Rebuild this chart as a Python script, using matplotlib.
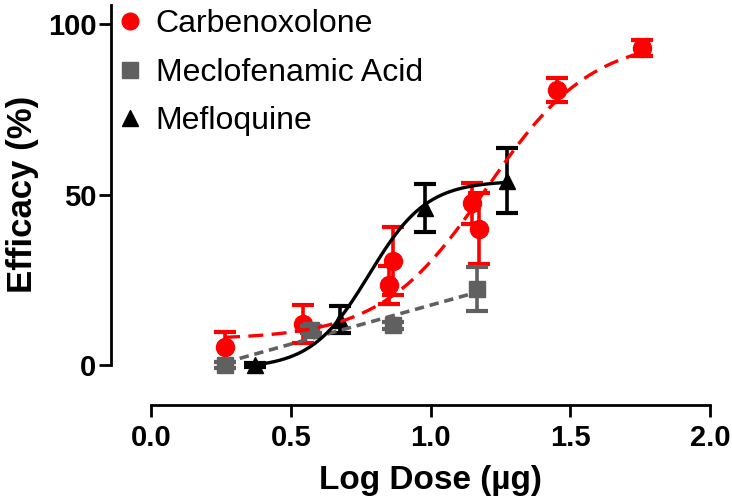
import numpy as np
import matplotlib
matplotlib.use("Agg")
import matplotlib.pyplot as plt
from matplotlib.lines import Line2D
from matplotlib.transforms import blended_transform_factory

plt.rcParams['font.family'] = ['Liberation Sans', 'DejaVu Sans']

# ---- data ----
carb_x = [0.265, 0.545, 0.85, 0.865, 1.148, 1.175, 1.451, 1.756]
carb_y = [5.3, 12.0, 23.5, 30.5, 47.4, 40.0, 80.6, 92.9]
carb_err = [4.5, 5.6, 5.5, 10.0, 6.0, 10.3, 3.5, 2.3]

mecl_x = [0.265, 0.572, 0.866, 1.165]
mecl_y = [0.0, 10.3, 11.7, 22.3]
mecl_err = [1.0, 1.0, 1.0, 6.5]

meflo_x = [0.372, 0.676, 0.98, 1.275]
meflo_y = [0.0, 13.3, 46.0, 54.0]
meflo_err = [0.5, 4.0, 7.0, 9.5]

# fitted dose-response curve parameters (bottom, top, logEC50, hill)
carb_fit = (7.5, 96.0, 1.20, 2.3)
meflo_fit = (-1.0, 54.0, 0.78, 4.2)

labels = ["Carbenoxolone", "Meclofenamic Acid", "Mefloquine"]
xticks = [0.0, 0.5, 1.0, 1.5, 2.0]
xticklabels = ["0.0", "0.5", "1.0", "1.5", "2.0"]
yticks = [0, 50, 100]
yticklabels = ["0", "50", "100"]

RED = "#FF0000"
GRAY = "#606060"
BLACK = "#000000"


def hill(x, b, t, c, h):
    return b + (t - b) / (1.0 + 10 ** ((c - x) * h))


fig = plt.figure(figsize=(7.32, 5.04), dpi=100)
ax = fig.add_axes([111 / 732, 99 / 504, (718 - 111) / 732, 400 / 504])

xmin = -40 / 279.5
ax.set_xlim(xmin, 2.0 + 8 / 279.5)
ax.set_ylim(-40 / 3.41, 360 / 3.41)

ekw = dict(linestyle='none', elinewidth=2.6, capthick=3.0, capsize=8)
ax.errorbar(carb_x, carb_y, yerr=carb_err, marker='o', ms=13, color=RED,
            ecolor=RED, zorder=3, **ekw)
ax.errorbar(mecl_x, mecl_y, yerr=mecl_err, marker='s', ms=12, color=GRAY,
            ecolor=GRAY, zorder=4, **ekw)
ax.errorbar(meflo_x, meflo_y, yerr=meflo_err, marker='^', ms=12, color=BLACK,
            ecolor=BLACK, zorder=5, **ekw)

# curves
xc = np.linspace(min(carb_x), max(carb_x), 300)
ax.plot(xc, hill(xc, *carb_fit), color=RED, lw=2.4, ls=(0, (4.5, 2.5)), zorder=6)

p = np.polyfit(mecl_x, mecl_y, 1)
xg = np.linspace(min(mecl_x), max(mecl_x), 100)
ax.plot(xg, np.polyval(p, xg), color=GRAY, lw=2.6, ls=(0, (2.6, 1.6)), zorder=6)

xm = np.linspace(min(meflo_x), max(meflo_x), 300)
ax.plot(xm, hill(xm, *meflo_fit), color=BLACK, lw=2.4, zorder=6)

# axes styling (Prism-like offset axes)
for s in ['top', 'right']:
    ax.spines[s].set_visible(False)
ax.spines['left'].set_linewidth(2.0)
ax.spines['bottom'].set_linewidth(2.0)
ax.spines['bottom'].set_bounds(0, 2.0)
ax.spines['left'].set_bounds(0, 360 / 3.41)

ax.set_xticks(xticks)
ax.set_xticklabels(xticklabels)
ax.set_yticks(yticks)
ax.set_yticklabels(yticklabels)
ax.tick_params(axis='both', direction='out', length=8.5, width=2.0,
               labelsize=21)
ax.tick_params(axis='y', pad=2)
ax.tick_params(axis='x', pad=5)
for lab in ax.get_xticklabels() + ax.get_yticklabels():
    lab.set_fontweight('bold')

ax.set_xlabel("Log Dose (µg)", fontsize=24, fontweight='bold')
ax.set_ylabel("Efficacy (%)", fontsize=25, fontweight='bold')
ax.xaxis.set_label_coords(1.0, 1 - 465 / 504,
                          transform=blended_transform_factory(ax.transData, fig.transFigure))
ax.yaxis.set_label_coords(39 / 732, 50,
                          transform=blended_transform_factory(fig.transFigure, ax.transData))

handles = [
    Line2D([], [], marker='o', color=RED, ls='none', ms=12),
    Line2D([], [], marker='s', color=GRAY, ls='none', ms=11),
    Line2D([], [], marker='^', color=BLACK, ls='none', ms=11),
]
leg = ax.legend(handles, labels, loc='upper left',
                bbox_to_anchor=(119 / 732, 1 - 6 / 504), bbox_transform=fig.transFigure,
                frameon=False, fontsize=23, handlelength=0.5, handletextpad=0.55,
                labelspacing=0.58, borderpad=0.1, borderaxespad=0)

fig.savefig("out.png", dpi=100)
